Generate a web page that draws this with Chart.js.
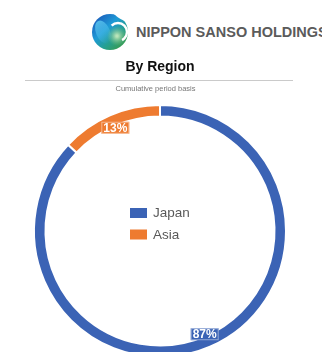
<!DOCTYPE html>
<html>
<head>
<meta charset="utf-8">
<script src="https://cdn.jsdelivr.net/npm/chart.js@4.4.1/dist/chart.umd.min.js"></script>
<style>
  html, body { margin: 0; padding: 0; width: 322px; height: 352px; overflow: hidden; background: #fff;
               font-family: "Liberation Sans", Arial, sans-serif; }
  #logo { position: absolute; left: 90px; top: 12px; }
  .brand { position: absolute; left: 136px; top: 25px; font-size: 14.5px; line-height: 14.5px;
           font-weight: bold; color: #5b5b5b; white-space: nowrap; }
  .title { position: absolute; left: 0; width: 320px; top: 59px; text-align: center;
           font-size: 14px; line-height: 14px; font-weight: bold; color: #111; }
  .rule { position: absolute; left: 25px; width: 268px; top: 80px; height: 1px; background: #cacaca; }
  .sub { position: absolute; left: 0; width: 311px; top: 85px; text-align: center;
         font-size: 7.5px; line-height: 7.5px; color: #777; }
  #wrap { position: absolute; left: 0; top: 0; width: 322px; height: 362px; }
</style>
</head>
<body>
<canvas id="logo" width="40" height="40"></canvas>
<div class="brand">NIPPON SANSO HOLDINGS</div>
<div class="title">By Region</div>
<div class="rule"></div>
<div class="sub">Cumulative period basis</div>
<div id="wrap"><canvas id="regionChart" width="322" height="362"></canvas></div>

<script>
// sales share by region, cumulative period
const regions = ["Japan", "Asia"];
const shares = [87, 13];
const regionColors = ["#3b63b5", "#ee7b30"];

// company mark
(function drawLogo() {
    const ctx = document.getElementById('logo').getContext('2d');
    const g = ctx.createLinearGradient(4, 4, 34, 36);
    g.addColorStop(0, '#1b55b8');
    g.addColorStop(0.4, '#1e9ad6');
    g.addColorStop(0.7, '#26a08c');
    g.addColorStop(1, '#3b9a45');
    ctx.fillStyle = g;
    ctx.beginPath();
    ctx.arc(20, 20, 18, 0, Math.PI * 2);
    ctx.fill();

    // lighter swirl on the left
    const s = ctx.createLinearGradient(4, 10, 20, 30);
    s.addColorStop(0, 'rgba(90,200,240,0.9)');
    s.addColorStop(1, 'rgba(90,200,240,0)');
    ctx.fillStyle = s;
    ctx.beginPath();
    ctx.ellipse(13, 20, 7, 12, -0.4, 0, Math.PI * 2);
    ctx.fill();

    // pale green lens on the right
    const l = ctx.createRadialGradient(27, 24, 1, 27, 24, 10);
    l.addColorStop(0, 'rgba(200,235,190,0.9)');
    l.addColorStop(1, 'rgba(120,190,120,0)');
    ctx.fillStyle = l;
    ctx.beginPath();
    ctx.arc(27, 24, 10, 0, Math.PI * 2);
    ctx.fill();

    // white crescent cut
    ctx.strokeStyle = '#fff';
    ctx.lineWidth = 2.5;
    ctx.beginPath();
    ctx.arc(28, 20, 9, -Math.PI * 0.75, Math.PI * 0.35);
    ctx.stroke();
    ctx.fillStyle = '#fff';
    ctx.beginPath();
    ctx.moveTo(24, 2);
    ctx.quadraticCurveTo(30, 8, 38, 10);
    ctx.lineTo(40, 0);
    ctx.closePath();
    ctx.fill();
})();

// percent tags sitting on each ring segment
const segmentLabels = {
    id: 'segmentLabels',
    afterDatasetsDraw(chart) {
        const { ctx } = chart;
        const meta = chart.getDatasetMeta(0);
        ctx.save();
        ctx.font = 'bold 12px "Liberation Sans", Arial, sans-serif';
        ctx.textAlign = 'center';
        ctx.textBaseline = 'middle';
        meta.data.forEach((arc, i) => {
            const { x, y, startAngle, endAngle, outerRadius } = arc.getProps(['x', 'y', 'startAngle', 'endAngle', 'outerRadius'], true);
            const mid = (startAngle + endAngle) / 2;
            const r = outerRadius - 13.5;
            const cx = x + Math.cos(mid) * r;
            const cy = y + Math.sin(mid) * r;
            const text = shares[i] + '%';
            const w = ctx.measureText(text).width + 4;
            const h = 12;
            ctx.fillStyle = regionColors[i];
            ctx.fillRect(cx - w / 2, cy - h / 2, w, h);
            ctx.strokeStyle = 'rgba(255,255,255,0.45)';
            ctx.lineWidth = 1;
            ctx.strokeRect(cx - w / 2 + 0.5, cy - h / 2 + 0.5, w - 1, h - 1);
            ctx.fillStyle = '#fff';
            ctx.fillText(text, cx, cy + 0.5);
        });
        ctx.restore();
    }
};

// legend drawn in the hole of the doughnut
const centerLegend = {
    id: 'centerLegend',
    afterDraw(chart) {
        const { ctx } = chart;
        ctx.save();
        ctx.font = '13.5px "Liberation Sans", Arial, sans-serif';
        ctx.textAlign = 'left';
        ctx.textBaseline = 'middle';
        chart.data.labels.forEach((label, i) => {
            const rowY = 213 + i * 21.5;
            ctx.fillStyle = chart.data.datasets[0].backgroundColor[i];
            ctx.fillRect(130, rowY - 5, 17, 10);
            ctx.fillStyle = '#595959';
            ctx.fillText(label, 153, rowY + 0.5);
        });
        ctx.restore();
    }
};

new Chart(document.getElementById('regionChart'), {
    type: 'doughnut',
    data: {
        labels: regions,
        datasets: [{
            data: shares,
            backgroundColor: regionColors,
            borderColor: '#ffffff',
            borderWidth: 2,
            hoverOffset: 0,
            clip: false
        }]
    },
    options: {
        responsive: false,
        animation: false,
        radius: 126,
        cutout: '90.9%',
        layout: { padding: { left: 34, right: 36, top: 105, bottom: 5 } },
        plugins: {
            legend: { display: false },
            tooltip: { enabled: false }
        }
    },
    plugins: [segmentLabels, centerLegend]
});
</script>
</body>
</html>
